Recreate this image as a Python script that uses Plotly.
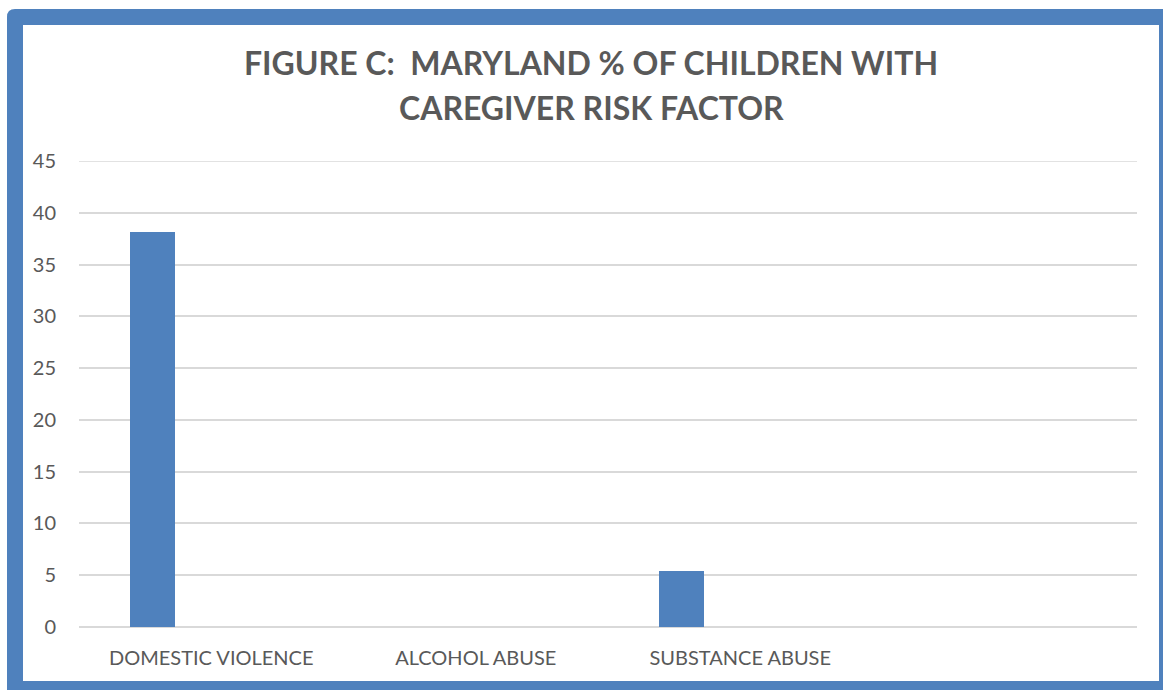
import plotly.graph_objects as go

categories = ["DOMESTIC VIOLENCE", "ALCOHOL ABUSE", "SUBSTANCE ABUSE"]
values = [38.1, 0, 5.4]
y_ticks = [0, 5, 10, 15, 20, 25, 30, 35, 40, 45]
title_lines = ["FIGURE C:\u00a0 MARYLAND % OF CHILDREN WITH", "CAREGIVER RISK FACTOR"]

W, H = 1163, 690
ML, MR, MT, MB = 79, 26, 161, 63
PW, PH = W - ML - MR, H - MT - MB

def px(x):
    return (x - ML) / PW

def py(y):
    return (H - MB - y) / PH

BLUE = "#4F81BD"
TEXT = "#595959"
GRID = "#D9D9D9"
FONT = "Lato, 'Open Sans', sans-serif"

fig = go.Figure()
fig.add_trace(go.Bar(
    x=categories, y=values,
    marker=dict(color=BLUE, line=dict(width=0)),
    width=0.172, offset=-0.308,
    hoverinfo="x+y",
))

r = 8
x0, y0, x1, y1 = px(7), py(9), px(W + 5), py(H + 5)
rx, ry = r / PW, r / PH
path = (f"M {x0},{y1} L {x0},{y0 - ry} Q {x0},{y0} {x0 + rx},{y0} "
        f"L {x1},{y0} L {x1},{y1} Z")
shapes = [
    dict(type="path", xref="paper", yref="paper", path=path,
         fillcolor=BLUE, line=dict(width=0), layer="below"),
    dict(type="rect", xref="paper", yref="paper",
         x0=px(23), y0=py(25), x1=px(1159), y1=py(681),
         fillcolor="white", line=dict(width=0), layer="below"),
    # top gridline (plotly omits gridlines at the range edge)
    dict(type="line", xref="paper", yref="y", x0=0, x1=1,
         y0=y_ticks[-1], y1=y_ticks[-1], line=dict(color=GRID, width=1.5), layer="below"),
]

annotations = [
    dict(text=f"<b>{title_lines[0]}</b>", xref="paper", yref="paper",
         x=px(591), y=py(62), xanchor="center", yanchor="middle", showarrow=False,
         font=dict(family=FONT, size=32, color=TEXT)),
    dict(text=f"<b>{title_lines[1]}</b>", xref="paper", yref="paper",
         x=px(591), y=py(107), xanchor="center", yanchor="middle", showarrow=False,
         font=dict(family=FONT, size=32, color=TEXT)),
]

fig.update_layout(
    width=W, height=H,
    margin=dict(l=ML, r=MR, t=MT, b=MB, pad=0),
    paper_bgcolor="white", plot_bgcolor="rgba(0,0,0,0)",
    shapes=shapes, annotations=annotations,
    showlegend=False, bargap=0,
    font=dict(family=FONT, color=TEXT),
)
fig.update_xaxes(
    type="category", categoryorder="array", categoryarray=categories,
    range=[-0.5, 3.5], showgrid=False, zeroline=False, showline=False,
    ticks="", tickfont=dict(size=20, color=TEXT, family=FONT), ticklabelstandoff=17,
)
fig.update_yaxes(
    range=[0, 45], tickvals=y_ticks, showgrid=True, gridcolor=GRID, gridwidth=1.5,
    zeroline=True, zerolinecolor=GRID, zerolinewidth=1.5, showline=False,
    ticks="", tickfont=dict(size=20, color=TEXT, family=FONT), ticklabelstandoff=22,
)

fig.write_html("out.html")
